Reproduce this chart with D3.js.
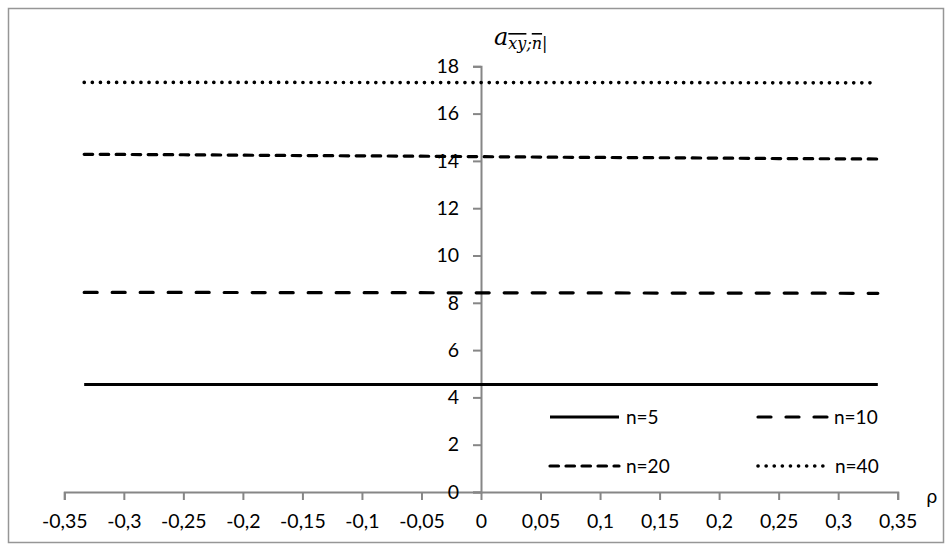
<!DOCTYPE html>
<html>
<head>
<meta charset="utf-8">
<script src="https://cdn.jsdelivr.net/npm/d3@7"></script>
<style>
  body { margin: 0; background: #fff; }
  svg text { font-family: Lato, "Open Sans", sans-serif; fill: #000; }
  .axis path, .axis line { stroke: #868686; stroke-width: 2px; }
  .axis text { font-size: 19.5px; }
</style>
</head>
<body>
<svg width="952" height="551"></svg>
<script>
// values
const rho = [-0.3333, -0.25, -0.1667, -0.0833, 0, 0.0833, 0.1667, 0.25, 0.3333];
const n5 = [4.55, 4.55, 4.55, 4.55, 4.55, 4.55, 4.55, 4.55, 4.55];
const n10 = [8.44, 8.44, 8.43, 8.43, 8.42, 8.42, 8.41, 8.41, 8.40];
const n20 = [14.28, 14.26, 14.23, 14.21, 14.18, 14.15, 14.13, 14.10, 14.08];
const n40 = [17.32, 17.32, 17.32, 17.31, 17.31, 17.31, 17.31, 17.30, 17.30];
const seriesNames = ['n=5', 'n=10', 'n=20', 'n=40'];
const xTicks = [-0.35, -0.3, -0.25, -0.2, -0.15, -0.1, -0.05, 0, 0.05, 0.1, 0.15, 0.2, 0.25, 0.3, 0.35];
const yTicks = [0, 2, 4, 6, 8, 10, 12, 14, 16, 18];

const dashes = { 'n=5': null, 'n=10': '13 15', 'n=20': '8.5 7.5', 'n=40': '0.1 8' };
const widths = { 'n=5': 3, 'n=10': 3.2, 'n=20': 3.2, 'n=40': 3.6 };

const svg = d3.select('body svg');

// outer frame
svg.append('rect')
    .attr('x', 8.5).attr('y', 8.5)
    .attr('width', 935).attr('height', 534)
    .attr('fill', 'none')
    .attr('stroke', '#969696')
    .attr('stroke-width', 1.5);

const x = d3.scaleLinear().domain([-0.35, 0.35]).range([64.3, 897.7]);
const y = d3.scaleLinear().domain([0, 18]).range([492, 66.3]);

const loc = d3.formatLocale({ decimal: ',', thousands: ' ', grouping: [3], currency: ['', ''], minus: '-' });
const fmt = loc.format('~g');

// x axis sits on y = 0
svg.append('g')
    .attr('class', 'axis')
    .attr('transform', `translate(0, ${y(0)})`)
    .call(d3.axisBottom(x).tickValues(xTicks).tickFormat(fmt).tickSize(8).tickSizeOuter(8).tickPadding(16))
    .call(g => g.selectAll('text').attr('dy', '0.6em'));

// y axis sits on x = 0
svg.append('g')
    .attr('class', 'axis')
    .attr('transform', `translate(${x(0)}, 0)`)
    .call(d3.axisLeft(y).tickValues(yTicks).tickSize(8).tickSizeOuter(8).tickPadding(14));

const line = d3.line()
    .x((d, i) => x(rho[i]))
    .y(d => y(d));

const data = [n5, n10, n20, n40];

svg.selectAll('.series').data(data)
    .enter().append('path')
    .attr('class', 'series')
    .attr('d', line)
    .attr('fill', 'none')
    .attr('stroke', '#000')
    .attr('stroke-width', (d, i) => widths[seriesNames[i]])
    .attr('stroke-linecap', (d, i) => i === 0 ? 'butt' : 'round')
    .attr('stroke-dasharray', (d, i) => dashes[seriesNames[i]]);

// legend, 2 x 2
const legend = svg.append('g').attr('transform', 'translate(550, 417)');
const item = legend.selectAll('.item').data(seriesNames)
    .enter().append('g')
    .attr('class', 'item')
    .attr('transform', (d, i) => `translate(${(i % 2) * 208}, ${Math.floor(i / 2) * 49})`);

item.append('line')
    .attr('x1', 0).attr('x2', 69)
    .attr('stroke', '#000')
    .attr('stroke-width', d => widths[d])
    .attr('stroke-linecap', (d, i) => i === 0 ? 'butt' : 'round')
    .attr('stroke-dasharray', d => dashes[d]);

item.append('text')
    .attr('x', (d, i) => i === 3 ? 77 : 76)
    .attr('dy', '0.35em')
    .style('font-size', '19px')
    .text(d => d);

// axis titles
svg.append('text')
    .attr('x', 926).attr('y', 497)
    .attr('dy', '0.35em')
    .style('font-size', '18px')
    .style('font-family', '"DejaVu Sans", sans-serif')
    .text('ρ');

const title = svg.append('text')
    .attr('x', 494).attr('y', 45)
    .style('font-family', '"DejaVu Serif", serif')
    .style('font-style', 'italic');
title.append('tspan').style('font-size', '24px').text('a');
title.append('tspan')
    .attr('dy', 4)
    .style('font-size', '16px')
    .style('text-decoration', 'overline')
    .text('xy');
title.append('tspan').style('font-size', '16px').text(';');
title.append('tspan')
    .style('font-size', '16px')
    .style('text-decoration', 'overline')
    .text('n');
title.append('tspan').style('font-size', '16px').style('font-style', 'normal').text('|');
</script>
</body>
</html>
